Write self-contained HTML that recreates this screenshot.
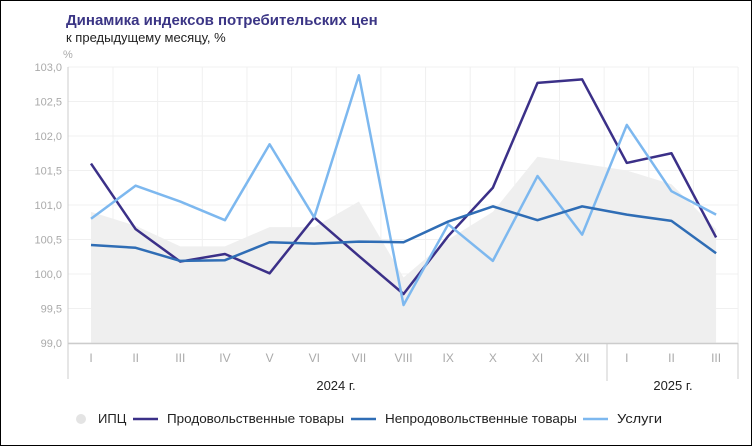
<!DOCTYPE html><html><head><meta charset="utf-8"><style>
body{margin:0;background:#fff}
#c{width:750px;height:444px;border:1px solid #000;position:relative;font-family:"Liberation Sans",sans-serif}
</style></head><body><div id="c">
<svg id="s" width="750" height="444" style="position:absolute;left:0;top:0" font-family="Liberation Sans, sans-serif">
<text x="65" y="24" font-size="15" font-weight="bold" fill="#3b3585">Динамика индексов потребительских цен</text>
<text x="65" y="41" font-size="13" fill="#222">к предыдущему месяцу, %</text>
<text x="62" y="57" font-size="11" fill="#aaa">%</text>
</svg></div>
<script>
const s=document.getElementById('s'),NS='http://www.w3.org/2000/svg';
function el(t,a,txt){const e=document.createElementNS(NS,t);for(const k in a)e.setAttribute(k,a[k]);if(txt)e.textContent=txt;s.appendChild(e);return e;}
const X=i=>90+i*44.65,Y=v=>342-(v-99)*69;
for(let i=0;i<15;i++)el('line',{x1:X(i)+22,x2:X(i)+22,y1:66,y2:342,stroke:'#f0f0f0'});
for(let v=99;v<=103;v+=0.5){el('line',{x1:67,x2:737,y1:Y(v),y2:Y(v),stroke:'#f0f0f0'});
el('text',{x:61,y:Y(v)+4,'font-size':11,fill:'#aaa','text-anchor':'end'},v.toFixed(1).replace('.',','));}
const cpi=[100.9,100.7,100.4,100.4,100.68,100.68,101.05,99.95,100.5,100.9,101.7,101.6,101.5,101.3,100.65];
let d='M'+X(0)+','+Y(99);cpi.forEach((v,i)=>d+=' L'+X(i)+','+Y(v));d+=' L'+X(14)+','+Y(99)+'Z';
el('path',{d,fill:'#efefef'});
el('line',{x1:67,x2:67,y1:66,y2:378,stroke:'#ccc'});
el('line',{x1:606,x2:606,y1:342,y2:380,stroke:'#ccc'});
el('line',{x1:737,x2:737,y1:342,y2:378,stroke:'#ccc'});
el('line',{x1:67,x2:737,y1:342.5,y2:342.5,stroke:'#ccc','stroke-width':1.5});
const ser=[[ '#3b3088',[101.6,100.65,100.18,100.29,100.01,100.82,100.26,99.71,100.55,101.25,102.77,102.82,101.61,101.75,100.53]],
['#7db8ef',[100.8,101.28,101.05,100.78,101.88,100.82,102.88,99.55,100.72,100.19,101.42,100.57,102.16,101.2,100.86]],
['#2f6db5',[100.42,100.38,100.19,100.2,100.46,100.44,100.47,100.46,100.76,100.98,100.78,100.98,100.86,100.77,100.3]]];
ser.forEach(([c,a])=>el('polyline',{points:a.map((v,i)=>X(i)+','+Y(v)).join(' '),fill:'none',stroke:c,'stroke-width':2.5,'stroke-linejoin':'round'}));
const m=['I','II','III','IV','V','VI','VII','VIII','IX','X','XI','XII','I','II','III'];
m.forEach((t,i)=>el('text',{x:X(i),y:361,'font-size':12,fill:'#aaa','text-anchor':'middle'},t));
el('text',{x:335,y:389,'font-size':13,fill:'#222','text-anchor':'middle'},'2024 г.');
el('text',{x:672,y:389,'font-size':13,fill:'#222','text-anchor':'middle'},'2025 г.');
el('circle',{cx:80,cy:418,r:5,fill:'#e4e4e4'});
el('text',{x:97,y:422,'font-size':13,fill:'#222'},'ИПЦ');
[[132,'#3b3088','Продовольственные товары',166,177],[350,'#2f6db5','Непродовольственные товары',384,192],[582,'#7db8ef','Услуги',616,45]].forEach(([x,c,t,tx,w])=>{
el('line',{x1:x,x2:x+25,y1:418,y2:418,stroke:c,'stroke-width':2.5});el('text',{x:tx,y:422,'font-size':13,fill:'#222',textLength:w,lengthAdjust:'spacingAndGlyphs'},t);});
</script></body></html>
